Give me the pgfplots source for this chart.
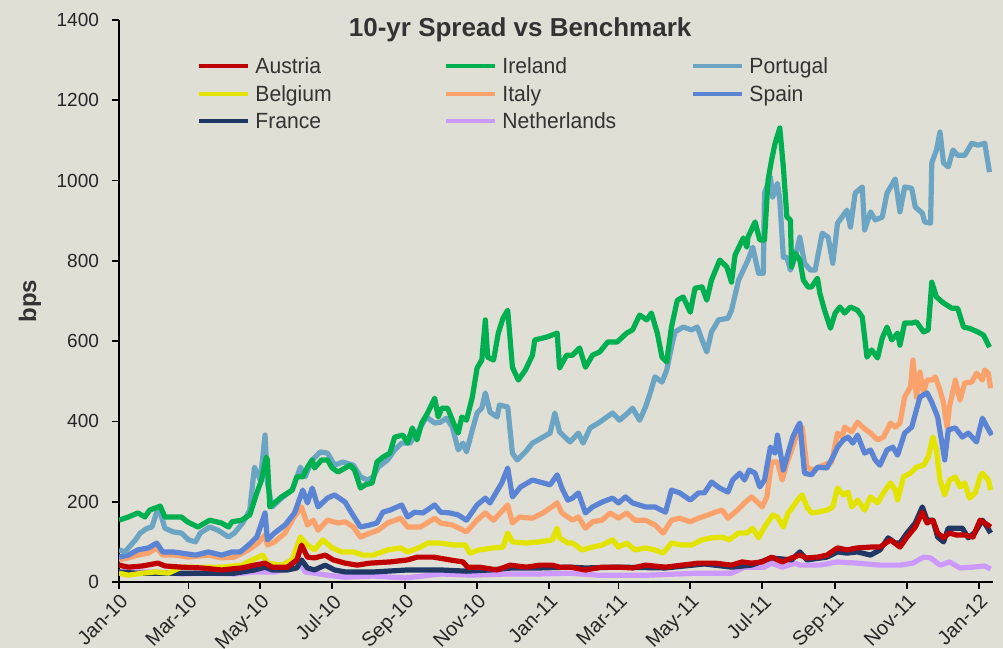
\documentclass[border=0pt]{standalone}
\usepackage{fontspec}
\setmainfont{Liberation Sans}
\newfontfamily\legfont[FakeStretch=0.96]{Liberation Sans}
\usepackage{pgfplots}
\pgfplotsset{compat=1.18}
\usetikzlibrary{backgrounds,calc}

\definecolor{bgcol}{HTML}{E0DFD5}
\definecolor{textcol}{HTML}{333333}
\definecolor{austria}{HTML}{C00000}
\definecolor{belgium}{HTML}{E3E300}
\definecolor{france}{HTML}{1F3864}
\definecolor{ireland}{HTML}{00B050}
\definecolor{italy}{HTML}{FBA26C}
\definecolor{netherlands}{HTML}{CC99FF}
\definecolor{portugal}{HTML}{6BA5C3}
\definecolor{spain}{HTML}{5B84D4}

\begin{document}
\begin{tikzpicture}
\begin{axis}[
    name=ax,
    scale only axis,
    width=437pt, height=281pt,
    xmin=0, xmax=742, ymin=0, ymax=1400,
    clip mode=individual,
    axis x line*=bottom, axis y line*=left,
    axis line style={line width=0.9pt, black, -},
    tick align=outside,
    major tick length=3.5pt,
    tick style={line width=0.9pt, black},
    % x = days since 1 Jan 2010
    xtick={0,59,120,181,243,304,365,424,485,546,608,669,730},
    xticklabels={Jan-10,Mar-10,May-10,Jul-10,Sep-10,Nov-10,Jan-11,Mar-11,May-11,Jul-11,Sep-11,Nov-11,Jan-12},
    ytick={0,200,...,1400},
    xticklabel style={yshift=3pt, xshift=0pt, rotate=45, anchor=north east, font=\fontsize{10}{12}\selectfont, text=black!85},
    yticklabel style={font=\fontsize{9.5}{12}\selectfont, xshift=-3pt, text=black!85},
    /pgf/number format/assume math mode=true,
    /pgf/number format/1000 sep={},
    ylabel={bps},
    ylabel style={at={(axis description cs:-0.102,0.5)}, anchor=center, font=\bfseries\fontsize{12}{14}\selectfont, text=textcol},
    every axis plot/.append style={line width=2.6pt, line join=round},
    legend columns=3,
    legend style={at={(axis description cs:0.0893,0.9426)}, anchor=north west,
        draw=none, fill=none, inner sep=0pt, column sep=0pt, row sep=0pt,
        nodes={inner sep=2.5pt, text height=8pt, text depth=0.75pt, text width=92pt,
               font=\legfont\fontsize{11}{13}\selectfont, text=textcol}},
    legend cell align=left,
    legend image code/.code={\draw[#1] (0pt,0pt) -- (24.5pt,0pt);},
]
% drawing order: bottom to top
\addplot[netherlands, forget plot] coordinates {(0,25)(14,25)(31,25)(53,20)(76,22)(98,20)(115,25)(132,25)(147,35)(154,47)(158,25)(166,22)(177,17)(192,12)(216,15)(243,10)(273,20)(301,17)(330,20)(357,20)(383,22)(407,17)(449,17)(492,22)(520,22)(531,37)(548,37)(554,47)(563,37)(574,47)(578,42)(595,42)(610,50)(627,47)(646,42)(663,42)(674,47)(683,62)(689,60)(697,42)(705,50)(714,35)(725,37)(735,40)(740,32)};
\addplot[france, forget plot] coordinates {(0,25)(14,22)(31,22)(53,22)(76,22)(98,22)(115,30)(124,37)(130,30)(143,30)(151,35)(155,55)(160,35)(166,30)(175,42)(183,30)(192,25)(216,25)(245,30)(273,30)(295,27)(315,30)(334,35)(357,35)(383,37)(396,35)(424,37)(464,35)(497,45)(520,37)(537,42)(554,60)(571,55)(578,75)(584,55)(601,62)(610,75)(618,72)(627,75)(638,67)(646,80)(653,110)(659,97)(663,97)(669,122)(676,147)(682,187)(686,154)(691,154)(695,112)(700,100)(704,134)(710,134)(716,134)(721,110)(727,125)(733,154)(737,137)(740,122)};
\addplot[belgium, forget plot] coordinates {(0,22)(8,17)(20,22)(31,25)(42,22)(53,37)(70,37)(87,37)(104,42)(113,55)(122,67)(126,47)(138,42)(147,55)(154,112)(160,92)(166,80)(173,105)(181,85)(189,75)(199,75)(207,67)(216,67)(228,80)(239,85)(245,75)(256,87)(262,97)(273,97)(284,92)(294,92)(298,72)(306,80)(318,85)(326,87)(330,122)(334,100)(346,97)(357,100)(368,105)(372,134)(374,110)(381,97)(385,97)(393,80)(402,87)(410,92)(419,105)(424,87)(431,97)(438,80)(447,85)(455,80)(462,72)(469,97)(478,92)(486,92)(495,105)(503,110)(512,112)(518,105)(526,122)(533,122)(538,134)(543,110)(548,137)(555,167)(559,162)(564,137)(568,172)(572,187)(576,204)(580,217)(584,187)(588,172)(593,174)(601,179)(606,187)(610,234)(615,217)(619,224)(622,187)(627,204)(633,179)(638,212)(644,197)(649,222)(655,247)(659,229)(661,204)(666,262)(672,271)(677,286)(683,291)(687,311)(691,361)(694,329)(697,254)(701,217)(705,254)(710,262)(714,237)(718,247)(722,209)(727,222)(731,262)(733,271)(738,254)(740,229)};
\addplot[austria, forget plot] coordinates {(0,42)(8,37)(20,40)(33,47)(39,40)(53,37)(70,35)(87,30)(104,35)(115,42)(124,47)(130,37)(143,37)(151,55)(155,92)(160,62)(166,60)(175,67)(182,55)(192,47)(202,42)(213,47)(230,50)(245,55)(253,62)(267,62)(281,55)(292,50)(296,37)(306,37)(321,30)(332,42)(346,37)(357,42)(368,42)(374,37)(383,37)(396,30)(410,37)(424,37)(436,35)(447,42)(464,37)(478,42)(492,47)(506,47)(520,42)(529,50)(537,47)(546,50)(554,62)(563,50)(571,60)(578,67)(584,60)(593,62)(601,67)(610,85)(618,80)(627,85)(638,87)(646,87)(655,105)(663,87)(669,112)(676,137)(682,174)(686,147)(691,154)(695,122)(700,110)(705,122)(711,117)(718,117)(725,112)(731,154)(735,147)(740,137)};
\addplot[italy, forget plot] coordinates {(0,55)(8,60)(16,67)(25,72)(32,85)(37,67)(48,67)(59,62)(76,67)(87,60)(98,62)(110,80)(118,97)(124,117)(126,92)(132,100)(141,122)(148,159)(155,187)(160,142)(165,154)(169,129)(177,154)(186,147)(192,150)(199,137)(205,112)(213,122)(220,129)(228,147)(239,159)(245,137)(256,137)(268,159)(273,147)(283,142)(295,125)(304,154)(311,172)(318,154)(326,179)(330,192)(334,147)(340,162)(351,159)(360,172)(366,184)(372,197)(376,172)(381,162)(385,154)(390,162)(396,134)(402,150)(410,154)(417,172)(424,159)(431,172)(438,154)(447,154)(455,142)(462,122)(469,154)(476,159)(485,150)(492,159)(500,167)(506,174)(512,179)(517,159)(525,179)(531,197)(537,212)(542,199)(546,187)(550,212)(554,299)(559,299)(563,254)(567,296)(572,336)(576,374)(580,386)(584,286)(589,279)(598,291)(605,299)(610,371)(614,361)(616,386)(622,374)(627,398)(632,384)(638,371)(644,354)(649,361)(655,396)(659,386)(663,396)(667,461)(672,486)(674,553)(677,461)(680,523)(683,471)(686,503)(690,503)(693,511)(697,478)(700,446)(703,386)(705,436)(710,503)(714,453)(718,496)(724,498)(728,520)(733,503)(735,528)(738,520)(740,483)};
\addplot[spain, forget plot] coordinates {(0,62)(8,67)(16,80)(25,85)(32,97)(37,75)(46,75)(53,72)(65,67)(76,75)(87,67)(96,75)(103,75)(110,92)(117,112)(124,172)(126,105)(132,122)(141,142)(149,172)(156,229)(160,197)(164,234)(169,187)(177,209)(183,217)(192,199)(196,179)(205,137)(213,142)(219,147)(224,174)(230,179)(240,192)(245,162)(251,174)(258,172)(268,192)(273,174)(281,172)(288,167)(295,154)(304,192)(311,209)(315,197)(325,247)(330,284)(334,212)(341,237)(351,254)(360,247)(366,242)(372,267)(376,234)(381,204)(385,209)(390,222)(396,172)(402,187)(410,199)(419,209)(424,197)(430,212)(436,197)(447,187)(455,187)(464,174)(469,229)(476,222)(485,204)(492,222)(497,222)(503,249)(510,234)(517,224)(521,254)(527,271)(531,254)(535,279)(540,271)(544,237)(548,254)(553,336)(557,321)(559,366)(564,279)(568,321)(572,361)(576,386)(578,396)(582,271)(588,267)(593,286)(601,284)(606,311)(610,336)(615,354)(619,361)(623,346)(627,366)(633,321)(638,329)(642,304)(646,291)(652,329)(657,336)(661,316)(667,371)(673,386)(680,461)(686,471)(690,448)(695,411)(701,304)(704,379)(710,384)(716,361)(721,371)(728,349)(733,408)(737,386)(741,366)};
\addplot[portugal, forget plot] coordinates {(0,80)(5,75)(14,105)(18,122)(24,134)(28,137)(32,174)(35,172)(39,134)(46,125)(53,122)(59,105)(65,100)(69,122)(77,137)(84,129)(93,112)(98,122)(105,147)(111,179)(115,286)(120,254)(124,366)(126,247)(130,187)(138,209)(147,229)(154,286)(158,262)(164,304)(171,324)(177,321)(183,291)(190,299)(199,291)(205,262)(211,254)(216,262)(220,286)(228,304)(234,329)(240,346)(247,346)(253,371)(261,411)(268,396)(273,398)(278,408)(283,386)(288,329)(292,346)(295,324)(300,379)(304,421)(308,433)(311,471)(315,423)(321,411)(323,441)(330,436)(334,321)(338,304)(345,324)(351,346)(360,361)(366,371)(370,421)(374,374)(381,354)(383,349)(390,371)(394,346)(400,384)(407,396)(419,421)(425,403)(432,421)(436,433)(442,403)(447,436)(451,471)(455,511)(461,498)(465,528)(469,585)(472,623)(479,635)(486,628)(491,635)(495,603)(499,573)(503,623)(509,653)(517,657)(520,677)(526,752)(530,777)(534,802)(538,834)(543,769)(547,769)(548,969)(553,1009)(555,959)(559,993)(561,951)(564,809)(567,809)(570,777)(574,809)(578,859)(582,794)(587,777)(591,777)(597,869)(602,859)(606,794)(610,894)(618,926)(621,884)(625,969)(631,984)(633,877)(638,922)(642,902)(648,909)(652,969)(659,1004)(663,922)(667,984)(673,981)(676,934)(682,919)(684,897)(689,894)(690,1044)(694,1076)(697,1121)(700,1044)(704,1034)(708,1076)(712,1063)(718,1063)(724,1093)(729,1088)(735,1093)(739,1021)};
\addplot[ireland, forget plot] coordinates {(0,154)(8,162)(16,172)(22,162)(26,179)(35,189)(39,162)(46,162)(53,162)(58,150)(67,137)(77,154)(87,147)(93,137)(96,150)(104,154)(111,167)(117,222)(121,254)(125,311)(126,304)(128,187)(132,197)(138,212)(147,229)(151,262)(156,262)(160,286)(164,304)(166,284)(172,304)(177,304)(181,284)(186,274)(192,284)(196,291)(200,279)(205,234)(209,242)(215,247)(219,299)(224,311)(230,321)(234,361)(241,366)(245,346)(249,384)(253,354)(257,396)(262,421)(268,458)(271,411)(274,433)(279,433)(284,396)(288,371)(291,411)(295,403)(300,461)(304,533)(308,553)(311,653)(313,560)(318,553)(322,620)(326,657)(330,677)(334,535)(339,503)(345,528)(351,565)(353,603)(363,610)(372,620)(374,533)(380,565)(385,565)(391,583)(396,535)(402,565)(408,573)(415,598)(423,598)(431,620)(436,628)(442,665)(448,653)(452,670)(457,620)(461,560)(465,548)(469,635)(474,702)(479,710)(485,672)(489,732)(495,735)(499,702)(503,752)(510,802)(516,785)(520,747)(523,814)(530,857)(533,834)(534,859)(540,897)(544,852)(548,852)(551,1001)(554,1051)(557,1093)(561,1131)(564,1034)(567,909)(570,902)(571,785)(574,819)(578,802)(581,752)(585,735)(588,735)(593,757)(595,719)(599,677)(604,632)(608,670)(612,685)(616,670)(621,685)(627,677)(631,660)(635,560)(639,578)(644,558)(648,608)(652,635)(656,603)(661,620)(663,590)(667,645)(673,645)(677,648)(683,623)(687,628)(690,747)(694,710)(700,695)(707,682)(712,682)(717,635)(722,632)(729,623)(734,615)(739,585)};
% legend, row by row
\addlegendimage{austria, line width=2pt}\addlegendentry{Austria}
\addlegendimage{ireland, line width=2pt}\addlegendentry{Ireland}
\addlegendimage{portugal, line width=2pt}\addlegendentry{Portugal}
\addlegendimage{belgium, line width=2pt}\addlegendentry{Belgium}
\addlegendimage{italy, line width=2pt}\addlegendentry{Italy}
\addlegendimage{spain, line width=2pt}\addlegendentry{Spain}
\addlegendimage{france, line width=2pt}\addlegendentry{France}
\addlegendimage{netherlands, line width=2pt}\addlegendentry{Netherlands}
\node[anchor=base, font=\bfseries\fontsize{13}{15}\selectfont, text=textcol] at (axis description cs:0.459,0.970) {10-yr Spread vs Benchmark};
\end{axis}
\pgfresetboundingbox
\coordinate (bl) at ($(ax.south west)+(-59.5pt,-33pt)$);
\coordinate (tr) at ($(ax.north east)+(5pt,10pt)$);
\begin{scope}[on background layer]
\fill[bgcol] (bl) rectangle (tr);
\end{scope}
\end{tikzpicture}
\end{document}
